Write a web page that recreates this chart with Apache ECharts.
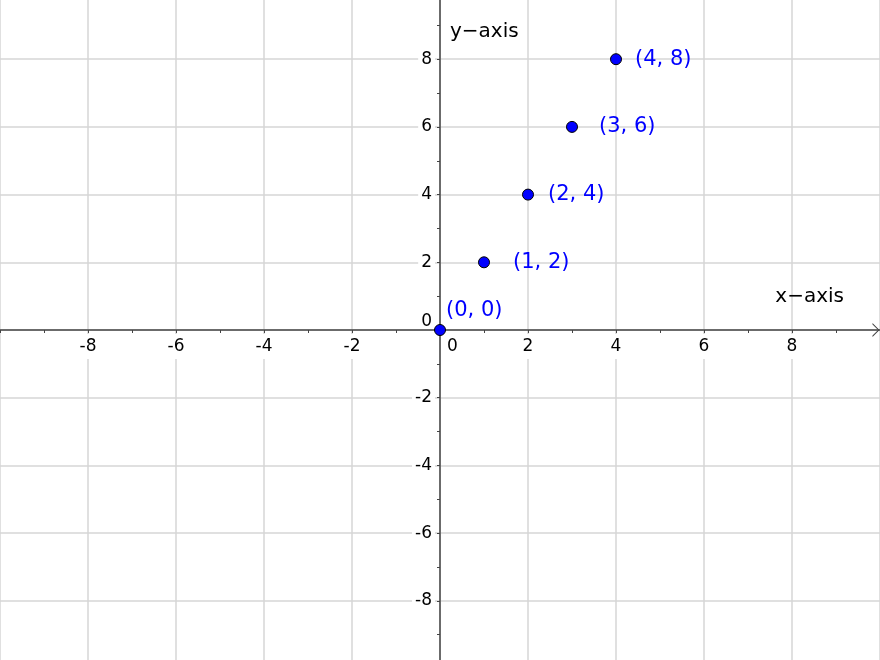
<!DOCTYPE html>
<html>
<head>
<meta charset="utf-8">
<title>Points on y = 2x</title>
<script src="https://cdn.jsdelivr.net/npm/echarts@6.0.0/dist/echarts.min.js"></script>
<style>
    html, body { margin: 0; padding: 0; background: #fff; }
    #chart { width: 880px; height: 660px; }
</style>
</head>
<body>
<div id="chart"></div>
<script>
// the points (x, 2x)
const xValues = [0, 1, 2, 3, 4];
const yValues = [0, 2, 4, 6, 8];
// labelled ticks on both axes
const xTicks = [-8, -6, -4, -2, 0, 2, 4, 6, 8];
const yTicks = [-8, -6, -4, -2, 0, 2, 4, 6, 8];
const xName = 'x−axis';
const yName = 'y−axis';

// space between each dot and its label (origin label sits above instead)
const labelGap = [0, 23, 14, 21, 13];

const font = 'DejaVu Sans';
const axisColor = '#444';
const gridColor = '#d6d6d6';

let chart = echarts.init(document.getElementById('chart'));

function tickFormatter(ticks, zeroText) {
    return function (v) {
        v = Math.round(Number(v));
        if (ticks.indexOf(v) < 0) return '';
        if (v === 0) return zeroText;
        return '{n|' + v + '}';
    };
}

// tick labels get a white box that breaks the grid line behind them
const boxed = {
    fontSize: 17, fontFamily: font, color: '#000',
    padding: [4, 3], backgroundColor: '#fff'
};

// the grid runs a little past the canvas (y from -10 to 10), so the axes
// are pulled in to the origin with offset instead of onZero, which keeps
// the tick labels next to the axis lines
let option = {
    animation: false,
    backgroundColor: '#fff',
    grid: {
        left: 0, right: 0, top: -8.5, bottom: -8.5,
        containLabel: false,
        outerBoundsMode: 'none'
    },
    xAxis: {
        type: 'value',
        position: 'bottom',
        offset: -338.5,
        min: -10, max: 10, interval: 2,
        name: xName,
        nameLocation: 'end',
        nameGap: -36,
        nameMoveOverlap: false,
        nameTextStyle: {
            fontSize: 20, fontFamily: font, color: '#000',
            align: 'right', verticalAlign: 'bottom', lineHeight: 24,
            padding: [0, 0, 21, 0]
        },
        axisLine: {
            onZero: false,
            lineStyle: { color: axisColor, width: 1.5 },
            symbol: ['none', 'path://M0,10 L10,0 L20,10 L18,10 L10,2 L2,10 Z'],
            symbolSize: [14, 7],
            symbolOffset: [0, -4]
        },
        axisTick: { show: true, length: 3, lineStyle: { color: axisColor } },
        minorTick: { show: true, splitNumber: 2, length: 3, lineStyle: { color: axisColor } },
        splitLine: { show: true, lineStyle: { color: gridColor, width: 1.5 } },
        axisLabel: {
            show: true,
            margin: 4,
            fontSize: 17, fontFamily: font, color: '#000',
            showMinLabel: false, showMaxLabel: false,
            formatter: tickFormatter(xTicks, '{gap|}{z|0}'),
            rich: {
                n: boxed,
                z: { fontSize: 17, fontFamily: font, color: '#000', padding: [4, 3] },
                gap: { width: 25 }
            }
        }
    },
    yAxis: {
        type: 'value',
        position: 'left',
        offset: -440,
        min: -10, max: 10, interval: 2,
        name: yName,
        nameLocation: 'end',
        nameGap: -40.5,
        nameMoveOverlap: false,
        nameTextStyle: {
            fontSize: 20, fontFamily: font, color: '#000',
            align: 'left', verticalAlign: 'middle',
            padding: [0, 0, 0, 10]
        },
        axisLine: { onZero: false, lineStyle: { color: axisColor, width: 1.5 } },
        axisTick: { show: true, length: 3, lineStyle: { color: axisColor } },
        minorTick: { show: true, splitNumber: 2, length: 3, lineStyle: { color: axisColor } },
        splitLine: { show: true, lineStyle: { color: gridColor, width: 1.5 } },
        axisLabel: {
            show: true,
            margin: 5,
            fontSize: 17, fontFamily: font, color: '#000',
            showMinLabel: false, showMaxLabel: false,
            formatter: tickFormatter(yTicks, '{z|0}'),
            rich: {
                n: boxed,
                z: { fontSize: 17, fontFamily: font, color: '#000', padding: [4, 3, 20, 3] }
            }
        }
    },
    series: [
        {
            type: 'scatter',
            symbol: 'circle',
            symbolSize: 11,
            z: 5,
            itemStyle: { color: '#0000ff', borderColor: '#000', borderWidth: 1, opacity: 1 },
            label: {
                show: true,
                position: 'right',
                color: '#0000ff',
                fontSize: 21,
                fontFamily: font,
                formatter: function (p) {
                    return '(' + p.value[0] + ', ' + p.value[1] + ')';
                }
            },
            emphasis: { disabled: true },
            data: xValues.map(function (x, i) {
                return {
                    value: [x, yValues[i]],
                    label: { distance: labelGap[i], offset: i === 0 ? [0, -19] : [0, 0] }
                };
            })
        }
    ]
};

chart.setOption(option);
</script>
</body>
</html>
